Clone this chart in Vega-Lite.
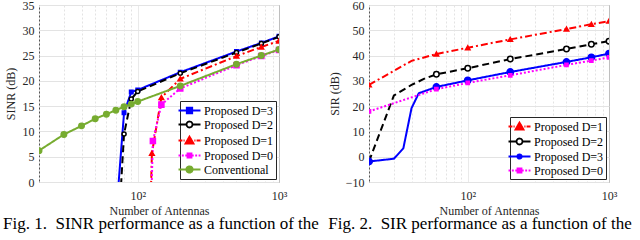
{
  "$schema": "https://vega.github.io/schema/vega-lite/v6.json",
  "padding": {"left": 2, "top": -2, "right": 0, "bottom": 0},
  "bounds": "flush",
  "spacing": 90,
  "config": {
    "font": "Liberation Serif",
    "view": {"stroke": "#555555", "strokeWidth": 1},
    "axis": {
      "labelFont": "Liberation Serif", "labelFontSize": 12, "labelColor": "#262626",
      "titleFont": "Liberation Serif", "titleFontSize": 12, "titleFontWeight": "normal", "titleColor": "#262626",
      "ticks": false, "domain": false, "gridColor": "#e3e3e3", "gridWidth": 1, "labelOverlap": false, "labelFlush": false
    },
    "legend": {
      "orient": "bottom-right", "offset": 3, "fillColor": "white", "strokeColor": "#262626",
      "padding": 2, "labelFont": "Liberation Serif", "labelFontSize": 12, "labelColor": "black",
      "symbolSize": 169, "labelOffset": 7, "rowPadding": 0, "symbolStrokeWidth": 1.8, "titlePadding": 0
    },
    "title": {"font": "Liberation Serif", "fontSize": 17, "fontWeight": "normal", "color": "black"}
  },
  "datasets": {
    "sinr": [
      {"series": "Proposed D=3", "antennas": 70, "value": -7.2, "marker": false},
      {"series": "Proposed D=3", "antennas": 80, "value": 13.7, "marker": true},
      {"series": "Proposed D=3", "antennas": 90, "value": 17.8, "marker": true},
      {"series": "Proposed D=3", "antennas": 100, "value": 18.2, "marker": true},
      {"series": "Proposed D=3", "antennas": 200, "value": 21.7, "marker": true},
      {"series": "Proposed D=3", "antennas": 500, "value": 25.8, "marker": true},
      {"series": "Proposed D=3", "antennas": 750, "value": 27.5, "marker": true},
      {"series": "Proposed D=3", "antennas": 1000, "value": 28.8, "marker": true},
      {"series": "Proposed D=2", "antennas": 70, "value": -18, "marker": false},
      {"series": "Proposed D=2", "antennas": 80, "value": 9.5, "marker": true},
      {"series": "Proposed D=2", "antennas": 90, "value": 16.4, "marker": true},
      {"series": "Proposed D=2", "antennas": 100, "value": 17.9, "marker": true},
      {"series": "Proposed D=2", "antennas": 200, "value": 21.5, "marker": true},
      {"series": "Proposed D=2", "antennas": 500, "value": 25.6, "marker": true},
      {"series": "Proposed D=2", "antennas": 750, "value": 27.4, "marker": true},
      {"series": "Proposed D=2", "antennas": 1000, "value": 28.7, "marker": true},
      {"series": "Proposed D=1", "antennas": 100, "value": -100, "marker": false},
      {"series": "Proposed D=1", "antennas": 126, "value": 5.7, "marker": true},
      {"series": "Proposed D=1", "antennas": 147, "value": 16.7, "marker": true},
      {"series": "Proposed D=1", "antennas": 200, "value": 20.4, "marker": true},
      {"series": "Proposed D=1", "antennas": 500, "value": 24.9, "marker": true},
      {"series": "Proposed D=1", "antennas": 750, "value": 26.7, "marker": true},
      {"series": "Proposed D=1", "antennas": 1000, "value": 27.9, "marker": true},
      {"series": "Proposed D=0", "antennas": 100, "value": -100, "marker": false},
      {"series": "Proposed D=0", "antennas": 128, "value": 8.1, "marker": true},
      {"series": "Proposed D=0", "antennas": 147, "value": 15.3, "marker": true},
      {"series": "Proposed D=0", "antennas": 200, "value": 18.5, "marker": true},
      {"series": "Proposed D=0", "antennas": 500, "value": 23.1, "marker": true},
      {"series": "Proposed D=0", "antennas": 750, "value": 24.9, "marker": true},
      {"series": "Proposed D=0", "antennas": 1000, "value": 26.1, "marker": true},
      {"series": "Conventional", "antennas": 20, "value": 6.2, "marker": true},
      {"series": "Conventional", "antennas": 30, "value": 9.4, "marker": true},
      {"series": "Conventional", "antennas": 40, "value": 11.1, "marker": true},
      {"series": "Conventional", "antennas": 50, "value": 12.5, "marker": true},
      {"series": "Conventional", "antennas": 60, "value": 13.4, "marker": true},
      {"series": "Conventional", "antennas": 70, "value": 14.2, "marker": true},
      {"series": "Conventional", "antennas": 80, "value": 14.9, "marker": true},
      {"series": "Conventional", "antennas": 90, "value": 15.4, "marker": true},
      {"series": "Conventional", "antennas": 100, "value": 15.9, "marker": true},
      {"series": "Conventional", "antennas": 200, "value": 19.0, "marker": true},
      {"series": "Conventional", "antennas": 500, "value": 23.3, "marker": true},
      {"series": "Conventional", "antennas": 750, "value": 25.0, "marker": true},
      {"series": "Conventional", "antennas": 1000, "value": 26.2, "marker": true}
    ],
    "sir": [
      {"series": "Proposed D=1", "antennas": 20, "value": 28.4, "marker": true},
      {"series": "Proposed D=1", "antennas": 40, "value": 37.9, "marker": false},
      {"series": "Proposed D=1", "antennas": 60, "value": 40.6, "marker": true},
      {"series": "Proposed D=1", "antennas": 100, "value": 43.1, "marker": true},
      {"series": "Proposed D=1", "antennas": 200, "value": 46.4, "marker": true},
      {"series": "Proposed D=1", "antennas": 500, "value": 50.5, "marker": true},
      {"series": "Proposed D=1", "antennas": 750, "value": 52.4, "marker": true},
      {"series": "Proposed D=1", "antennas": 1000, "value": 53.6, "marker": true},
      {"series": "Proposed D=2", "antennas": 20, "value": -1.9, "marker": true},
      {"series": "Proposed D=2", "antennas": 30, "value": 24.2, "marker": false},
      {"series": "Proposed D=2", "antennas": 40, "value": 28.4, "marker": false},
      {"series": "Proposed D=2", "antennas": 50, "value": 31.0, "marker": false},
      {"series": "Proposed D=2", "antennas": 60, "value": 32.6, "marker": true},
      {"series": "Proposed D=2", "antennas": 100, "value": 35.0, "marker": true},
      {"series": "Proposed D=2", "antennas": 200, "value": 38.6, "marker": true},
      {"series": "Proposed D=2", "antennas": 500, "value": 42.6, "marker": true},
      {"series": "Proposed D=2", "antennas": 750, "value": 44.5, "marker": true},
      {"series": "Proposed D=2", "antennas": 1000, "value": 45.7, "marker": true},
      {"series": "Proposed D=3", "antennas": 20, "value": -1.9, "marker": true},
      {"series": "Proposed D=3", "antennas": 30, "value": -0.8, "marker": false},
      {"series": "Proposed D=3", "antennas": 35, "value": 3.3, "marker": false},
      {"series": "Proposed D=3", "antennas": 40, "value": 19.2, "marker": false},
      {"series": "Proposed D=3", "antennas": 45, "value": 25.1, "marker": false},
      {"series": "Proposed D=3", "antennas": 60, "value": 27.6, "marker": true},
      {"series": "Proposed D=3", "antennas": 100, "value": 30.2, "marker": true},
      {"series": "Proposed D=3", "antennas": 200, "value": 33.5, "marker": true},
      {"series": "Proposed D=3", "antennas": 500, "value": 37.5, "marker": true},
      {"series": "Proposed D=3", "antennas": 750, "value": 39.3, "marker": true},
      {"series": "Proposed D=3", "antennas": 1000, "value": 40.8, "marker": true},
      {"series": "Proposed D=0", "antennas": 20, "value": 17.9, "marker": true},
      {"series": "Proposed D=0", "antennas": 60, "value": 26.7, "marker": true},
      {"series": "Proposed D=0", "antennas": 100, "value": 29.2, "marker": true},
      {"series": "Proposed D=0", "antennas": 200, "value": 32.2, "marker": true},
      {"series": "Proposed D=0", "antennas": 500, "value": 36.3, "marker": true},
      {"series": "Proposed D=0", "antennas": 750, "value": 38.0, "marker": true},
      {"series": "Proposed D=0", "antennas": 1000, "value": 39.3, "marker": true}
    ]
  },
  "resolve": {
    "scale": {"color": "independent", "strokeDash": "independent", "shape": "independent", "size": "independent", "fill": "independent", "stroke": "independent"},
    "legend": {"color": "independent"}
  },
  "hconcat": [
    {
      "width": 240, "height": 177,
      "data": {"name": "sinr"},
      "title": {"text": "Fig. 1.\u00a0\u00a0SINR performance as a function of the", "orient": "bottom", "anchor": "start", "frame": "bounds", "offset": 0, "dx": -1, "font": "Liberation Serif", "fontSize": 17, "fontWeight": "normal", "color": "black"},
      "encoding": {
        "x": {"field": "antennas", "type": "quantitative", "scale": {"type": "log", "domain": [20, 1000]},
          "axis": {"title": "Number of Antennas", "values": [20,30,40,50,60,70,80,90,100,200,300,400,500,600,700,800,900,1000],
            "labelExpr": "datum.value == 100 ? '10²' : datum.value == 1000 ? '10³' : ''", "labelPadding": 8, "titlePadding": 4,
            "labelFont": "Liberation Serif", "labelFontSize": 12, "labelColor": "#262626", "titleFont": "Liberation Serif", "titleFontSize": 12, "titleFontWeight": "normal", "titleColor": "#262626",
            "ticks": false, "domain": false, "gridColor": "#e3e3e3", "labelOverlap": false, "labelFlush": false,
            "gridDash": {"condition": {"test": "datum.value == 100 || datum.value == 1000", "value": [1, 0]}, "value": [2, 2]}}},
        "y": {"field": "value", "type": "quantitative", "scale": {"domain": [0, 35]},
          "axis": {"title": "SINR (dB)", "values": [0,5,10,15,20,25,30,35], "labelPadding": 5, "titlePadding": 5,
            "labelFont": "Liberation Serif", "labelFontSize": 12, "labelColor": "#262626", "titleFont": "Liberation Serif", "titleFontSize": 12, "titleFontWeight": "normal", "titleColor": "#262626",
            "ticks": false, "domain": false, "gridColor": "#e3e3e3", "labelOverlap": false, "labelFlush": false}}
      },
      "layer": [
        {
          "mark": {"type": "line", "strokeWidth": 2, "clip": true},
          "encoding": {
            "color": {"field": "series", "type": "nominal",
              "scale": {"domain": ["Proposed D=3", "Proposed D=2", "Proposed D=1", "Proposed D=0", "Conventional"], "range": ["#0000ff", "#000000", "#ff0000", "#ff00ff", "#77ac30"]},
              "legend": {"title": null, "orient": "bottom-right", "offset": 3, "fillColor": "white", "strokeColor": "#262626", "padding": 2,
                "labelFont": "Liberation Serif", "labelFontSize": 12, "labelColor": "black", "symbolSize": 169, "labelOffset": 7, "rowPadding": 0,
                "encode": {"symbols": {"update": {
                  "shape": {"signal": "datum.value === 'Proposed D=3' ? 'M-1.69,0H1.69M-0.42,-0.42H0.42V0.42H-0.42Z' : datum.value === 'Proposed D=2' ? 'M-1.69,0H-0.52M0.52,0H1.69M0.46,0A0.46,0.46 0 1,1 -0.46,0A0.46,0.46 0 1,1 0.46,0Z' : datum.value === 'Proposed D=1' ? 'M-1.69,0H-1.09M-0.92,0H-0.75M0.75,0H0.92M1.09,0H1.69M0,-0.62L0.62,0.46H-0.62Z' : datum.value === 'Proposed D=0' ? 'M-1.69,0H-1.4M-1.17,0H-0.88M-0.65,0H-0.37M0.37,0H0.65M0.88,0H1.17M1.4,0H1.69M-0.31,-0.31H0.31V0.31H-0.31Z' : 'M-1.69,0H1.69M0.49,0A0.49,0.49 0 1,1 -0.49,0A0.49,0.49 0 1,1 0.49,0Z'"},
                  "fill": {"signal": "datum.value === 'Proposed D=3' ? '#0000ff' : datum.value === 'Proposed D=2' ? '#ffffff' : datum.value === 'Proposed D=1' ? '#ff0000' : datum.value === 'Proposed D=0' ? '#ff00ff' : '#77ac30'"},
                  "stroke": {"signal": "datum.value === 'Proposed D=3' ? '#0000ff' : datum.value === 'Proposed D=2' ? '#000000' : datum.value === 'Proposed D=1' ? '#ff0000' : datum.value === 'Proposed D=0' ? '#ff00ff' : '#77ac30'"},
                  "strokeDash": {"value": [1, 0]},
                  "strokeWidth": {"value": 1.8},
                  "opacity": {"value": 1},
                  "size": {"value": 169}
                }}}}},
            "strokeDash": {"field": "series", "type": "nominal", "legend": null,
              "scale": {"range": [[1, 0], [2, 2], [7, 3, 2, 3], [7, 4], [1, 0]]}}
          }
        },
        {
          "transform": [{"filter": "datum.marker"}],
          "mark": {"type": "point", "filled": true, "strokeWidth": 1.5, "opacity": 1, "clip": true},
          "encoding": {
            "fill": {"field": "series", "type": "nominal", "legend": null,
              "scale": {"range": ["#77ac30", "#ff00ff", "#ff0000", "#ffffff", "#0000ff"]}},
            "stroke": {"field": "series", "type": "nominal", "legend": null,
              "scale": {"range": ["#77ac30", "#ff00ff", "#ff0000", "#000000", "#0000ff"]}},
            "shape": {"field": "series", "type": "nominal", "legend": null,
              "scale": {"range": ["circle", "square", "triangle-up", "circle", "square"]}},
            "size": {"field": "series", "type": "nominal", "legend": null,
              "scale": {"range": [30, 12, 40, 22, 22]}}
          }
        }
      ]
    },
    {
      "width": 240, "height": 177,
      "data": {"name": "sir"},
      "title": {"text": "Fig. 2.\u00a0\u00a0SIR performance as a function of the", "orient": "bottom", "anchor": "start", "frame": "bounds", "offset": 0, "font": "Liberation Serif", "fontSize": 17, "fontWeight": "normal", "color": "black"},
      "encoding": {
        "x": {"field": "antennas", "type": "quantitative", "scale": {"type": "log", "domain": [20, 1000]},
          "axis": {"title": "Number of Antennas", "values": [20,30,40,50,60,70,80,90,100,200,300,400,500,600,700,800,900,1000],
            "labelExpr": "datum.value == 100 ? '10²' : datum.value == 1000 ? '10³' : ''", "labelPadding": 8, "titlePadding": 4,
            "labelFont": "Liberation Serif", "labelFontSize": 12, "labelColor": "#262626", "titleFont": "Liberation Serif", "titleFontSize": 12, "titleFontWeight": "normal", "titleColor": "#262626",
            "ticks": false, "domain": false, "gridColor": "#e3e3e3", "labelOverlap": false, "labelFlush": false,
            "gridDash": {"condition": {"test": "datum.value == 100 || datum.value == 1000", "value": [1, 0]}, "value": [2, 2]}}},
        "y": {"field": "value", "type": "quantitative", "scale": {"domain": [-10, 60]},
          "axis": {"title": "SIR (dB)", "values": [-10,0,10,20,30,40,50,60], "labelPadding": 5, "titlePadding": 4,
            "labelFont": "Liberation Serif", "labelFontSize": 12, "labelColor": "#262626", "titleFont": "Liberation Serif", "titleFontSize": 12, "titleFontWeight": "normal", "titleColor": "#262626",
            "ticks": false, "domain": false, "gridColor": "#e3e3e3", "labelOverlap": false, "labelFlush": false}}
      },
      "layer": [
        {
          "mark": {"type": "line", "strokeWidth": 2, "clip": true},
          "encoding": {
            "color": {"field": "series", "type": "nominal",
              "scale": {"domain": ["Proposed D=1", "Proposed D=2", "Proposed D=3", "Proposed D=0"], "range": ["#ff0000", "#000000", "#0000ff", "#ff00ff"]},
              "legend": {"title": null, "orient": "bottom-right", "offset": 3, "fillColor": "white", "strokeColor": "#262626", "padding": 2,
                "labelFont": "Liberation Serif", "labelFontSize": 12, "labelColor": "black", "symbolSize": 169, "labelOffset": 7, "rowPadding": 0,
                "encode": {"symbols": {"update": {
                  "shape": {"signal": "datum.value === 'Proposed D=3' ? 'M-1.69,0H1.69M0.34,0A0.34,0.34 0 1,1 -0.34,0A0.34,0.34 0 1,1 0.34,0Z' : datum.value === 'Proposed D=2' ? 'M-1.69,0H-0.52M0.52,0H1.69M0.46,0A0.46,0.46 0 1,1 -0.46,0A0.46,0.46 0 1,1 0.46,0Z' : datum.value === 'Proposed D=1' ? 'M-1.69,0H-1.09M-0.92,0H-0.75M0.75,0H0.92M1.09,0H1.69M0,-0.62L0.62,0.46H-0.62Z' : 'M-1.69,0H-1.4M-1.17,0H-0.88M-0.65,0H-0.37M0.37,0H0.65M0.88,0H1.17M1.4,0H1.69M-0.31,-0.31H0.31V0.31H-0.31Z'"},
                  "fill": {"signal": "datum.value === 'Proposed D=3' ? '#0000ff' : datum.value === 'Proposed D=2' ? '#ffffff' : datum.value === 'Proposed D=1' ? '#ff0000' : '#ff00ff'"},
                  "stroke": {"signal": "datum.value === 'Proposed D=3' ? '#0000ff' : datum.value === 'Proposed D=2' ? '#000000' : datum.value === 'Proposed D=1' ? '#ff0000' : '#ff00ff'"},
                  "strokeDash": {"value": [1, 0]},
                  "strokeWidth": {"value": 1.8},
                  "opacity": {"value": 1},
                  "size": {"value": 169}
                }}}}},
            "strokeDash": {"field": "series", "type": "nominal", "legend": null,
              "scale": {"range": [[2, 2], [7, 3, 2, 3], [7, 4], [1, 0]]}}
          }
        },
        {
          "transform": [{"filter": "datum.marker"}],
          "mark": {"type": "point", "filled": true, "strokeWidth": 1.5, "opacity": 1, "clip": true},
          "encoding": {
            "fill": {"field": "series", "type": "nominal", "legend": null,
              "scale": {"range": ["#ff00ff", "#ff0000", "#ffffff", "#0000ff"]}},
            "stroke": {"field": "series", "type": "nominal", "legend": null,
              "scale": {"range": ["#ff00ff", "#ff0000", "#000000", "#0000ff"]}},
            "shape": {"field": "series", "type": "nominal", "legend": null,
              "scale": {"range": ["square", "triangle-up", "circle", "circle"]}},
            "size": {"field": "series", "type": "nominal", "legend": null,
              "scale": {"range": [10, 40, 22, 8]}}
          }
        }
      ]
    }
  ]
}
